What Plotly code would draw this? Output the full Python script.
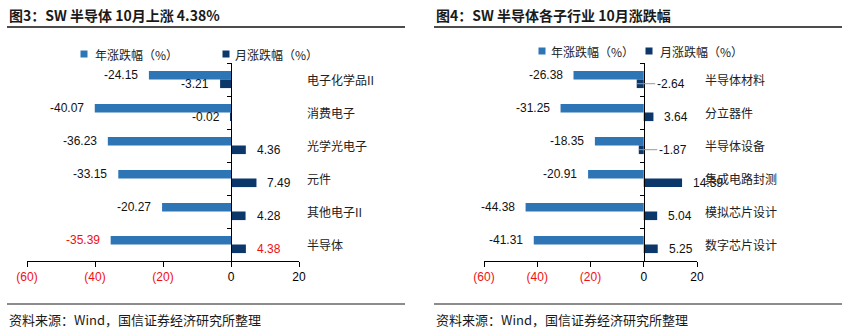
import plotly.graph_objects as go

# ---------------- data ----------------
left_categories = ["电子化学品II", "消费电子", "光学光电子", "元件", "其他电子II", "半导体"]
left_year = [-24.15, -40.07, -36.23, -33.15, -20.27, -35.39]
left_month = [-3.21, -0.02, 4.36, 7.49, 4.28, 4.38]

right_categories = ["半导体材料", "分立器件", "半导体设备", "集成电路封测", "模拟芯片设计", "数字芯片设计"]
right_year = [-26.38, -31.25, -18.35, -20.91, -44.38, -41.31]
right_month = [-2.64, 3.64, -1.87, 14.39, 5.04, 5.25]

tick_vals = [-60, -40, -20, 0, 20]
tick_text = ["(60)", "(40)", "(20)", "0", "20"]

series_names = ["年涨跌幅（%）", "月涨跌幅（%）"]
left_title = "图3：SW 半导体 10月上涨 4.38%"
right_title = "图4：SW 半导体各子行业 10月涨跌幅"
source_text = "资料来源：Wind，国信证券经济研究所整理"

# ---------------- style ----------------
W, H = 849, 335
YEAR_COLOR = "#2E75B6"
MONTH_COLOR = "#0B376B"
RED = "#F01010"
NUM_FONT = "Liberation Sans, Arial, sans-serif"
CJK_FONT = "Noto Sans CJK SC, sans-serif"
X_RANGE = [-60, 20]


def px_x(p):
    return p / W


def px_y(p):
    return (H - p) / H


left_dom = [px_x(27), px_x(299)]
right_dom = [px_x(484), px_x(697)]
y_dom = [px_y(261), px_y(63)]


def zero_pos(dom):
    return dom[0] + (0 - X_RANGE[0]) / (X_RANGE[1] - X_RANGE[0]) * (dom[1] - dom[0])


def colored_ticks(vals, texts):
    out = []
    for v, t in zip(vals, texts):
        if v < 0:
            out.append(f"<span style='color:{RED}'>{t}</span>")
        else:
            out.append(t)
    return out


fig = go.Figure()

panels = [
    ("x", "y", left_categories, left_year, left_month),
    ("x2", "y2", right_categories, right_year, right_month),
]

for xa, ya, cats, yr, mo in panels:
    fig.add_trace(go.Bar(orientation="h", y=cats, x=yr, marker_color=YEAR_COLOR,
                         marker_line_width=0, xaxis=xa, yaxis=ya, showlegend=False,
                         name=series_names[0]))
    fig.add_trace(go.Bar(orientation="h", y=cats, x=mo, marker_color=MONTH_COLOR,
                         marker_line_width=0, xaxis=xa, yaxis=ya, showlegend=False,
                         name=series_names[1]))

annotations = []
shapes = []

OFF = 4.2  # vertical pixel offset of bars from category centre


def add_label(xa, ya, cat, val, dy, color, special=False):
    if special:
        annotations.append(dict(x=val, y=cat, xref=xa, yref=ya, text=f"{val:.2f}",
                                showarrow=True, arrowhead=0, arrowwidth=1,
                                arrowcolor="#999999", ax=34, ay=0, yshift=dy,
                                font=dict(family=NUM_FONT, size=12, color=color)))
        return
    if val < 0:
        annotations.append(dict(x=val, y=cat, xref=xa, yref=ya, text=f"{val:.2f}",
                                showarrow=False, xanchor="right", yanchor="middle",
                                xshift=-9, yshift=dy,
                                font=dict(family=NUM_FONT, size=12, color=color)))
    else:
        annotations.append(dict(x=val, y=cat, xref=xa, yref=ya, text=f"{val:.2f}",
                                showarrow=False, xanchor="left", yanchor="middle",
                                xshift=9, yshift=dy,
                                font=dict(family=NUM_FONT, size=12, color=color)))


for i, c in enumerate(left_categories):
    col = RED if c == "半导体" else "#111111"
    add_label("x", "y", c, left_year[i], OFF, col)
    add_label("x", "y", c, left_month[i], -OFF, col)

for i, c in enumerate(right_categories):
    add_label("x2", "y2", c, right_year[i], OFF, "#111111")
    special = right_month[i] < 0
    add_label("x2", "y2", c, right_month[i], -OFF, "#111111", special=special)

# category labels at right of each plot
for xa, ya, cats in [("x", "y", left_categories), ("x2", "y2", right_categories)]:
    for c in cats:
        annotations.append(dict(x=1, y=c, xref=f"{xa} domain", yref=ya, text=c,
                                showarrow=False, xanchor="left", yanchor="middle",
                                xshift=6, font=dict(family=CJK_FONT, size=12, color="#222222")))

# legends (square key + text) for each panel
legend_spec = [
    # (square centre x, text start x, y, colour, name)
    (84, 95, 54, YEAR_COLOR, series_names[0]),
    (226, 235, 54, MONTH_COLOR, series_names[1]),
    (542, 551, 51, YEAR_COLOR, series_names[0]),
    (649, 660, 51, MONTH_COLOR, series_names[1]),
]
for sx, tx, ly, col, nm in legend_spec:
    shapes.append(dict(type="rect", xref="paper", yref="paper",
                       x0=px_x(sx - 3.5), x1=px_x(sx + 3.5), y0=px_y(ly + 3.5), y1=px_y(ly - 3.5),
                       fillcolor=col, line=dict(width=0)))
    annotations.append(dict(x=px_x(tx - 2), y=px_y(ly), xref="paper", yref="paper", text=nm,
                            showarrow=False, xanchor="left", yanchor="middle",
                            font=dict(family=CJK_FONT, size=12, color="#222222")))

# titles and source
for x0, x1, title in [(7, 405, left_title), (434, 842, right_title)]:
    annotations.append(dict(x=px_x(x0), y=px_y(15), xref="paper", yref="paper", text=f"<b>{title}</b>",
                            showarrow=False, xanchor="left", yanchor="middle",
                            font=dict(family=CJK_FONT, size=14, color="#1a1a1a")))
    annotations.append(dict(x=px_x(x0), y=px_y(319), xref="paper", yref="paper", text=source_text,
                            showarrow=False, xanchor="left", yanchor="middle",
                            font=dict(family=CJK_FONT, size=13, color="#1a1a1a")))
    shapes.append(dict(type="line", xref="paper", yref="paper", x0=px_x(x0), x1=px_x(x1),
                       y0=px_y(27), y1=px_y(27), line=dict(color="#111111", width=1.5)))
    shapes.append(dict(type="line", xref="paper", yref="paper", x0=px_x(x0), x1=px_x(x1),
                       y0=px_y(304), y1=px_y(304), line=dict(color="#666666", width=1.5)))

xaxis_common = dict(range=X_RANGE, tickvals=tick_vals, ticktext=colored_ticks(tick_vals, tick_text),
                    showline=True, linecolor="#000000", linewidth=1, ticks="outside", ticklen=5,
                    tickcolor="#000000", showgrid=False, zeroline=False, fixedrange=True,
                    automargin=False,
                    tickfont=dict(family=NUM_FONT, size=12, color="#000000"))
yaxis_common = dict(type="category", autorange="reversed", domain=y_dom, anchor="free",
                    showline=True, linecolor="#000000", linewidth=1, ticks="outside",
                    ticklen=4, tickcolor="#000000", tickson="boundaries", showticklabels=False,
                    showgrid=False, zeroline=False, automargin=False)

fig.update_layout(
    width=W, height=H,
    margin=dict(l=0, r=0, t=0, b=0, pad=0, autoexpand=False),
    paper_bgcolor="white", plot_bgcolor="white",
    barmode="group", bargap=0.48, bargroupgap=0,
    xaxis=dict(domain=left_dom, anchor="y", **xaxis_common),
    xaxis2=dict(domain=right_dom, anchor="y2", **xaxis_common),
    yaxis=dict(position=zero_pos(left_dom), **yaxis_common),
    yaxis2=dict(position=zero_pos(right_dom), **yaxis_common),
    annotations=annotations,
    shapes=shapes,
    showlegend=False,
)

fig.write_html("out.html")
